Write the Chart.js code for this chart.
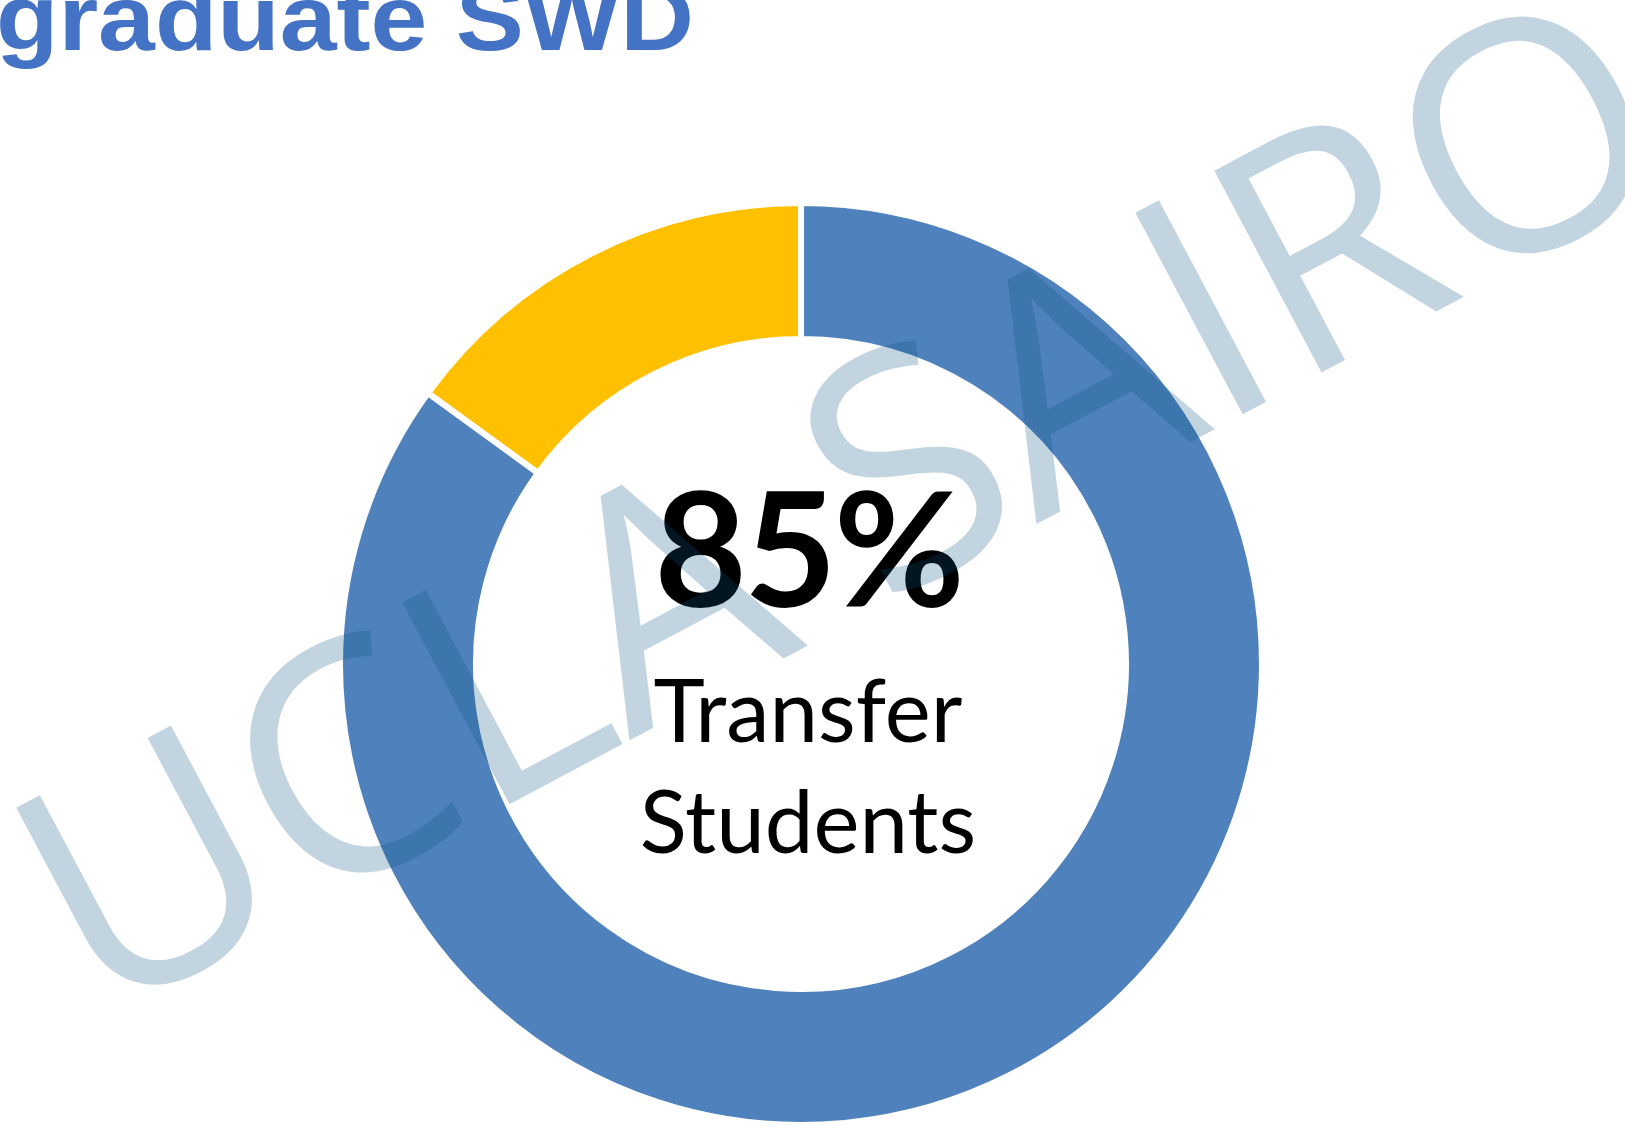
<!DOCTYPE html>
<html>
<head>
<meta charset="utf-8">
<script src="https://cdn.jsdelivr.net/npm/chart.js@4/dist/chart.umd.min.js"></script>
<style>
	html, body { margin: 0; padding: 0; background: #fff; overflow: hidden; }
	.wrap { position: relative; width: 1625px; height: 1130px; }
	.title {
		position: absolute; left: -4px; top: -33px; z-index: 2;
		font: bold 92px/1.117 "Liberation Sans", Arial, sans-serif; color: #4472C4;
		transform: scaleX(1.11); transform-origin: 0 0; white-space: nowrap;
	}
</style>
</head>
<body>
<div class="wrap">
	<div class="title">graduate SWD</div>
	<canvas id="donut"></canvas>
</div>
<script>
const labels = ['Transfer Students', 'Other'],
	values = [85, 15],
	colors = ['#4F81BD', '#FFC000'],
	centerLines = ['Transfer', 'Students'],
	watermark = 'UCLA SAIRO'

const $canvas = document.getElementById('donut')

// big percent + caption in the hole
const centerText = {
	id: 'centerText',
	afterDatasetsDraw(chart) {
		const arc = chart.getDatasetMeta(0).data[0],
			ctx = chart.ctx,
			x = arc.x + 7,
			y = arc.y
		ctx.save()
		ctx.fillStyle = '#000'
		ctx.textAlign = 'center'
		ctx.textBaseline = 'alphabetic'
		ctx.font = 'bold 160px Lato, "Open Sans", sans-serif'
		ctx.letterSpacing = '-3px'
		ctx.fillText(`${values[0]}%`, x, y - 57)
		ctx.letterSpacing = '0px'
		ctx.font = '87px Lato, "Open Sans", sans-serif'
		ctx.fillText(centerLines[0], x, y + 78)
		ctx.fillText(centerLines[1], x, y + 189)
		ctx.restore()
	}
}

// semi transparent stamp over everything
const stamp = {
	id: 'stamp',
	afterDraw(chart) {
		const ctx = chart.ctx
		ctx.save()
		ctx.translate(98, 1023)
		ctx.rotate(-28 * Math.PI / 180)
		ctx.font = '400 320px "Open Sans", sans-serif'
		ctx.textAlign = 'left'
		ctx.textBaseline = 'alphabetic'
		ctx.fillStyle = 'rgba(6, 84, 127, 0.25)'
		ctx.fillText(watermark, 0, 0)
		ctx.restore()
	}
}

new Chart($canvas, {
	type: 'doughnut',
	data: {
		labels,
		datasets: [{
			data: values,
			backgroundColor: colors,
			borderColor: '#fff',
			borderWidth: 6
		}]
	},
	options: {
		responsive: true,
		maintainAspectRatio: false,
		animation: false,
		cutout: '70.5%',
		layout: { padding: { left: 337, right: 360, top: 200, bottom: 2 } },
		plugins: { legend: { display: false }, tooltip: { enabled: false } }
	},
	plugins: [centerText, stamp]
})
</script>
</body>
</html>
